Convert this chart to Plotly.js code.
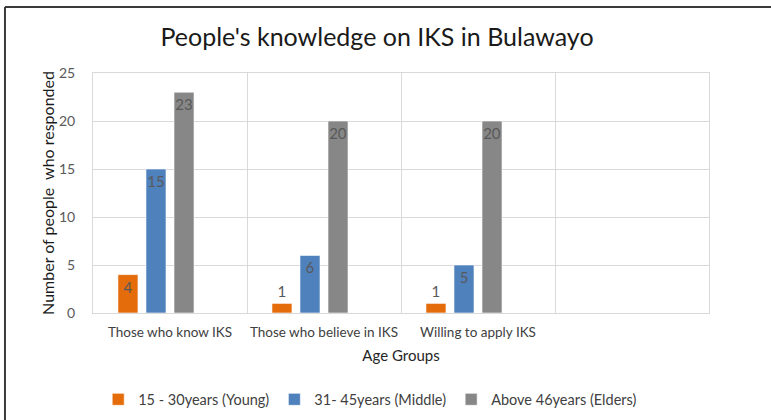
<!DOCTYPE html>
<html>
<head>
<meta charset="utf-8">
<script src="https://cdn.plot.ly/plotly-3.0.1.min.js"></script>
<style>html,body{margin:0;padding:0;background:#fff;}#chart{width:771px;height:420px;}</style>
</head>
<body>
<div id="chart"></div>
<script>
const categories = ["Those who know IKS", "Those who believe in IKS", "Willing to apply IKS"];
const young = [4, 1, 1];
const middle = [15, 6, 5];
const elders = [23, 20, 20];
const seriesNames = ["15 - 30years (Young)", "31- 45years (Middle)", "Above 46years (Elders)"];
const colors = ["#E46C0A", "#4F81BD", "#878787"];

const font = "Lato, 'Open Sans', sans-serif";
const barW = 0.13;
const offsets = [-0.338, -0.156, 0.026];
const seriesVals = [young, middle, elders];

const traces = seriesVals.map((vals, i) => ({
  type: "bar",
  x: categories,
  y: vals,
  name: seriesNames[i],
  width: barW,
  offset: offsets[i],
  marker: {color: colors[i], line: {color: "rgba(255,255,255,0.6)", width: 1}},
  text: vals.map(String),
  textposition: "auto",
  textangle: 0,
  constraintext: "none",
  insidetextanchor: "end",
  textfont: {family: font, size: 15, color: "#595959"},
  insidetextfont: {family: font, size: 15, color: "#595959"},
  outsidetextfont: {family: font, size: 15, color: "#595959"},
  cliponaxis: false,
  hoverinfo: "skip"
}));

const layout = {
  width: 771, height: 420,
  margin: {l: 93, r: 62, t: 73, b: 107, autoexpand: false},
  paper_bgcolor: "#fff", plot_bgcolor: "#fff",
  barmode: "overlay",
  title: {text: "People's knowledge on IKS in Bulawayo", font: {family: font, size: 25, color: "#1a1a1a"},
          x: 0.489, xanchor: "center", y: 0.912, yanchor: "middle"},
  xaxis: {
    type: "category",
    range: [-0.5, 3.5],
    tickson: "boundaries",
    showgrid: true, gridcolor: "#d9d9d9", gridwidth: 1,
    showline: true, linecolor: "#d9d9d9", mirror: true,
    ticks: "", ticklabelstandoff: 7, automargin: false, tickangle: 0,
    tickfont: {family: font, size: 13.5, color: "#404040"},
    title: {text: "Age Groups", font: {family: font, size: 15, color: "#262626"}, standoff: 11},
    fixedrange: true
  },
  yaxis: {
    range: [0, 25], dtick: 5, tick0: 0,
    showgrid: true, gridcolor: "#d9d9d9", gridwidth: 1,
    showline: true, linecolor: "#d9d9d9", mirror: true,
    zeroline: false, automargin: false,
    ticks: "", ticklabelstandoff: 14,
    tickfont: {family: font, size: 14, color: "#595959"},
    title: {text: "Number of people  who responded", font: {family: font, size: 16, color: "#1a1a1a"}, standoff: 0},
    fixedrange: true
  },
  legend: {
    orientation: "h", x: 0.45, xanchor: "center", y: -0.36, yanchor: "middle",
    font: {family: font, size: 14.5, color: "#404040"},
    itemwidth: 30, traceorder: "normal", itemclick: false
  },
  showlegend: true,
  shapes: [
    {type: "line", xref: "paper", yref: "paper", x0: -0.1429, x1: 1.101, y0: 1.275, y1: 1.275, line: {color: "#3a3a3a", width: 2}},
    {type: "line", xref: "paper", yref: "paper", x0: -0.1429, x1: -0.1429, y0: 1.275, y1: -0.45, line: {color: "#3a3a3a", width: 2}}
  ]
};

Plotly.newPlot("chart", traces, layout, {displayModeBar: false, staticPlot: true});
</script>
</body>
</html>
